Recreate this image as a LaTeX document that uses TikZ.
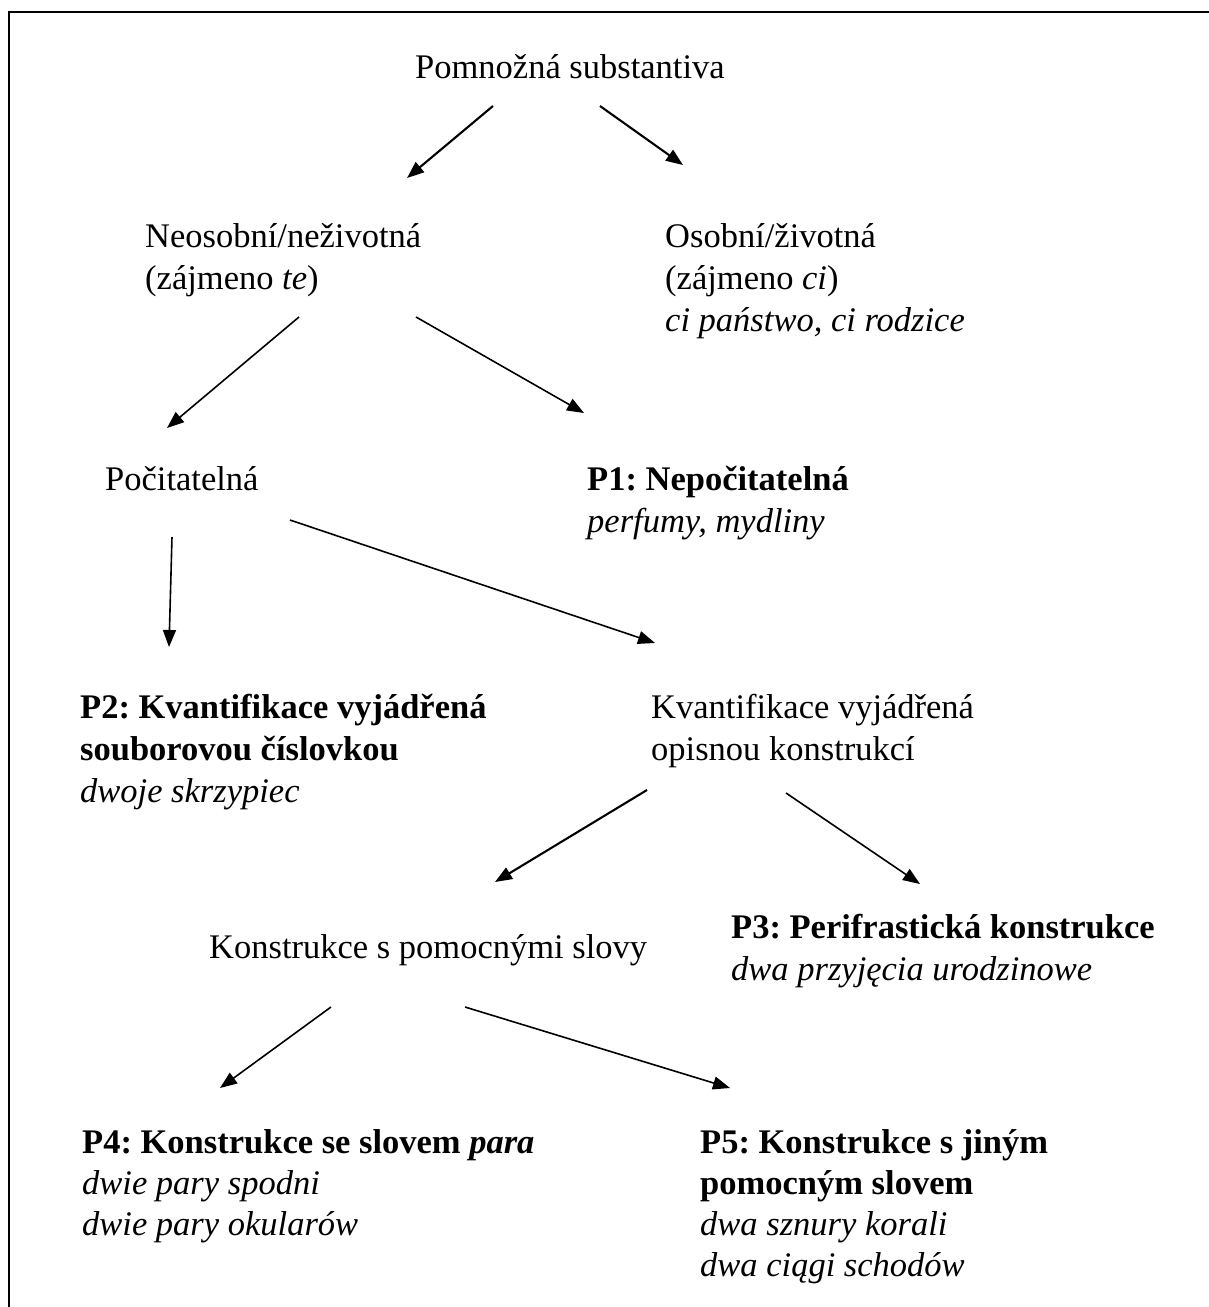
\documentclass[tikz,border=0pt]{standalone}
\usepackage{fontspec}
\setmainfont{Liberation Serif}
\usetikzlibrary{arrows.meta}
\begin{document}
\frenchspacing
\begin{tikzpicture}[x=1pt,y=-1pt,
  lbl/.style={anchor=base west,inner sep=0pt,font=\fontsize{34.5}{40}\selectfont},
  blbl/.style={lbl,font=\fontsize{34.5}{40}\selectfont\bfseries},
  ilbl/.style={lbl,font=\fontsize{34.5}{40}\selectfont\itshape},
  arr/.style={line width=1.6pt,-{Triangle[length=17pt,width=13pt]}},
  tarr/.style={arr,line width=2.1pt},
  frame/.style={line width=2.5pt}]
\useasboundingbox (0,0) rectangle (1209,1307);
\draw[frame] (1209,12) -- (9,12) -- (9,1307);
% nodes
\node[lbl] (pomn) at (415,78) {Pomnožná substantiva};
\node[lbl] (neos1) at (145,247) {Neosobní/neživotná};
\node[lbl] (neos2) at (145,289) {(zájmeno \textit{te})};
\node[lbl] (osob1) at (665,247) {Osobní/životná};
\node[lbl] (osob2) at (665,289) {(zájmeno \textit{ci})};
\node[ilbl] (osob3) at (665,331) {ci państwo, ci rodzice};
\node[lbl] (poc) at (105,490) {Počitatelná};
\node[blbl] (p1a) at (587,490) {P1: Nepočitatelná};
\node[ilbl] (p1b) at (587,532) {perfumy, mydliny};
\node[blbl] (p2a) at (80,718) {P2: Kvantifikace vyjádřená};
\node[blbl] (p2b) at (80,760) {souborovou číslovkou};
\node[ilbl] (p2c) at (80,802) {dwoje skrzypiec};
\node[lbl] (kv1) at (651,718) {Kvantifikace vyjádřená};
\node[lbl] (kv2) at (651,760) {opisnou konstrukcí};
\node[lbl] (kons) at (209,958) {Konstrukce s pomocnými slovy};
\node[blbl] (p3a) at (731,938) {P3: Perifrastická konstrukce};
\node[ilbl] (p3b) at (731,980) {dwa przyjęcia urodzinowe};
\node[blbl] (p4a) at (82,1153) {P4: Konstrukce se slovem \textit{para}};
\node[ilbl] (p4b) at (82,1194) {dwie pary spodni};
\node[ilbl] (p4c) at (82,1235) {dwie pary okularów};
\node[blbl] (p5a) at (700,1153) {P5: Konstrukce s jiným};
\node[blbl] (p5b) at (700,1194) {pomocným slovem};
\node[ilbl] (p5c) at (700,1235) {dwa sznury korali};
\node[ilbl] (p5d) at (700,1276) {dwa ciągi schodów};
% connector end points
\coordinate (pomnL) at (493,106); \coordinate (neosT) at (407,178);
\coordinate (pomnR) at (600,106); \coordinate (osobT) at (683,165);
\coordinate (neosL) at (299,317); \coordinate (pocT) at (167,428);
\coordinate (neosR) at (416,317); \coordinate (p1T) at (584,413);
\coordinate (pocL) at (172,537); \coordinate (p2T) at (169,647);
\coordinate (pocR) at (290,520); \coordinate (kvT) at (655,643);
\coordinate (kvL) at (647,790); \coordinate (konsT) at (495,882);
\coordinate (kvR) at (786,793); \coordinate (p3T) at (920,884);
\coordinate (konsL) at (331,1007); \coordinate (p4T) at (220,1088);
\coordinate (konsR) at (465,1007); \coordinate (p5T) at (730,1088);
% connectors
\draw[tarr] (pomnL) -- (neosT);
\draw[tarr] (pomnR) -- (osobT);
\draw[arr] (neosL) -- (pocT);
\draw[arr] (neosR) -- (p1T);
\draw[arr] (pocL) -- (p2T);
\draw[arr] (pocR) -- (kvT);
\draw[tarr] (kvL) -- (konsT);
\draw[arr] (kvR) -- (p3T);
\draw[arr] (konsL) -- (p4T);
\draw[arr] (konsR) -- (p5T);
\end{tikzpicture}
\end{document}
